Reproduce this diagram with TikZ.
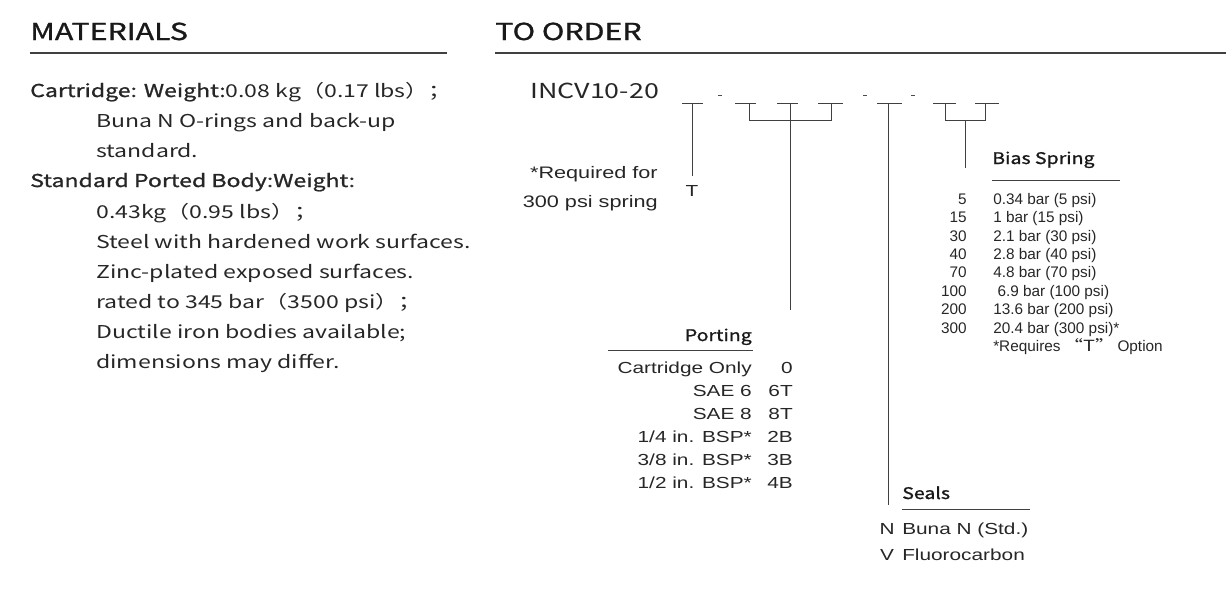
\documentclass[tikz,border=0pt]{standalone}
\usepackage{fontspec}
\setmainfont{Liberation Sans}
\newfontfamily\cjk[FakeStretch=1.3]{Noto Sans CJK SC}
\newfontfamily\cjkm[FakeStretch=1.3,FakeBold=1.2]{Noto Sans CJK SC}
\newfontfamily\cjkbm[FakeStretch=1.22,FakeBold=1.2]{Noto Sans CJK SC}
\newfontfamily\libw[FakeStretch=1.3]{Liberation Sans}
\begin{document}
\begin{tikzpicture}[x=0.75pt,y=-0.75pt,
  hd/.style={font=\cjkm\fontsize{17.5}{20}\selectfont,anchor=base west,inner sep=0,text=black!90},
  mt/.style={font=\cjk\fontsize{13.3}{16}\selectfont,anchor=base west,inner sep=0,text=black!85},
  tb/.style={font=\fontsize{11.5}{13}\selectfont,inner sep=0,text=black!85},
  tw/.style={font=\libw\fontsize{12}{13}\selectfont,inner sep=0,text=black!85},
  th/.style={font=\cjkbm\fontsize{12}{14}\selectfont,inner sep=0,text=black!90},
  ln/.style={draw=black!75,line width=0.9pt}]
\useasboundingbox (0,0) rectangle (1226,608);
% headings
\node[hd] (hm) at (30,40) {MATERIALS};
\node[hd] (ho) at (495,40) {TO ORDER};
\draw[ln] (30,53) -- (447,53);
\draw[ln] (495,53) -- (1226,53);
% materials
\node[mt] (m1) at (30,97) {{\cjkm Cartridge: Weight:}0.08 kg（0.17 lbs）；};
\node[mt] (m2) at (96,127) {Buna N O-rings and back-up};
\node[mt] (m3) at (96,157) {standard.};
\node[mt,font=\cjkm\fontsize{13.3}{16}\selectfont] (m4) at (30,187) {Standard Ported Body:Weight:};
\node[mt] (m5) at (96,218) {0.43kg（0.95 lbs）；};
\node[mt] (m6) at (96,248) {Steel with hardened work surfaces.};
\node[mt] (m7) at (96,278) {Zinc-plated exposed surfaces.};
\node[mt] (m8) at (96,308) {rated to 345 bar（3500 psi）；};
\node[mt] (m9) at (96,338) {Ductile iron bodies available;};
\node[mt] (m10) at (96,368) {dimensions may differ.};
% model code
\node[mt,font=\cjk\fontsize{15.5}{18}\selectfont] (code) at (530,98) {INCV10-20};
\foreach \a/\b/\n in {682/703/s1,735/756/s2,777/798/s3,818/843/s4,877/902/s5,933/956/s6,975/999/s7}
  \draw[ln,line width=0.7pt] (\a,103) -- (\b,103);
\foreach \x in {720,865,913}
  \draw[black!70,line width=0.6pt] (\x-2,95) -- (\x+2,95);
% T option
\coordinate (t0) at (692,103);
\node[tw,anchor=base] (tT) at (692,196) {T};
\draw[ln,line width=0.7pt] (t0) -- (692,176);
\node[tw,font=\libw\fontsize{12.5}{22}\selectfont,align=right,anchor=north east] (req) at (658,166) {*Required for\\300 psi spring};
% porting bracket
\draw[ln,line width=0.7pt] (749,103) -- (749,120) -- (831,120) -- (831,103);
\coordinate (p0) at (790,103);
\coordinate (p1) at (790,310);
\draw[ln,line width=0.7pt] (p0) -- (p1);
\node[th,anchor=base east] (ph) at (752,341) {Porting};
\draw[ln,line width=0.7pt] (608,350) -- (753,350);
\foreach \y/\l/\c in {373/{Cartridge Only}/0,396/{SAE 6}/6T,419/{SAE 8}/8T,442/{1/4 in. BSP*}/2B,465/{3/8 in. BSP*}/3B,488/{1/2 in. BSP*}/4B}{
  \node[tw,anchor=base east] at (752,\y) {\l};
  \node[tw,anchor=base east] at (793,\y) {\c};}
% seals
\coordinate (s0) at (888,103);
\coordinate (s1) at (888,505);
\draw[ln,line width=0.7pt] (s0) -- (s1);
\node[th,anchor=base west] (sh) at (902,499) {Seals};
\draw[ln,line width=0.7pt] (902,509) -- (1030,509);
\node[tw,anchor=base] (sn) at (887,534) {N};
\node[tw,anchor=base west] (snt) at (902,534) {Buna N (Std.)};
\node[tw,anchor=base] (sv) at (887,560) {V};
\node[tw,anchor=base west] (svt) at (902,560) {Fluorocarbon};
% bias spring
\draw[ln,line width=0.7pt] (945,103) -- (945,120) -- (985,120) -- (985,103);
\coordinate (b0) at (965,120);
\coordinate (b1) at (965,168);
\draw[ln,line width=0.7pt] (b0) -- (b1);
\node[th,anchor=base west] (bh) at (992,164) {Bias Spring};
\draw[ln,line width=0.7pt] (992,180) -- (1120,180);
\foreach \y/\n/\t in {204/5/0.34 bar (5 psi),222/15/1 bar (15 psi),241/30/2.1 bar (30 psi),259/40/2.8 bar (40 psi),277/70/4.8 bar (70 psi),296/100/\ 6.9 bar (100 psi),314/200/13.6 bar (200 psi),333/300/20.4 bar (300 psi)*}{
  \node[tb,anchor=base east] at (967,\y) {\n};
  \node[tb,anchor=base west] at (993,\y) {\t};}
\node[tb,anchor=base west] (bn) at (993,351) {*Requires\,{\cjk “T”}\,Option};
\end{tikzpicture}
\end{document}
